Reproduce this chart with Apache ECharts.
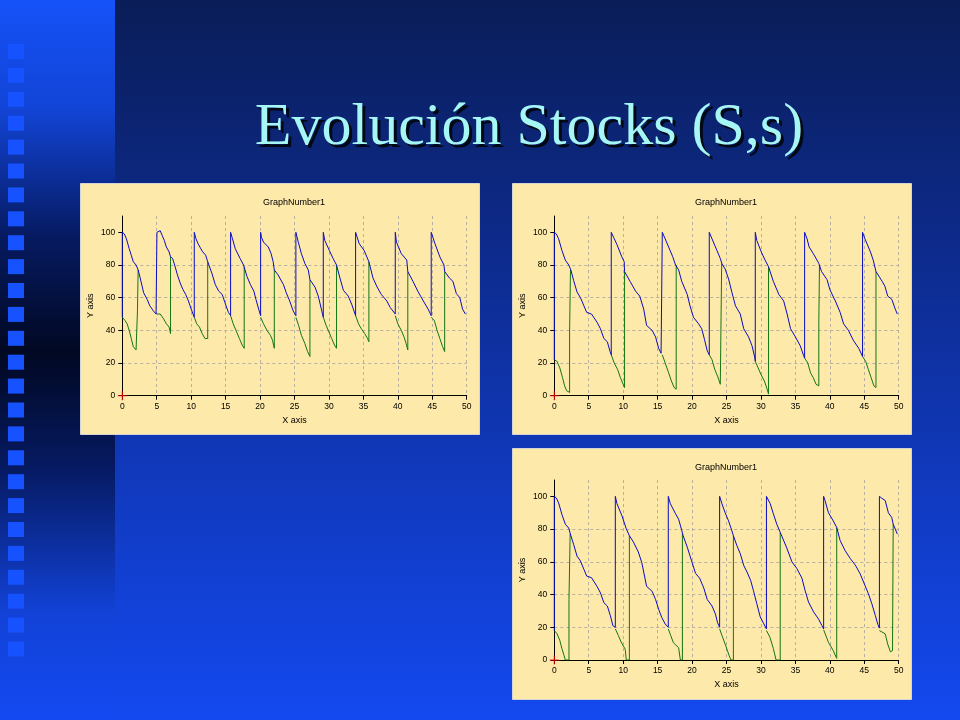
<!DOCTYPE html>
<html><head><meta charset="utf-8">
<script src="https://cdn.jsdelivr.net/npm/echarts@6/dist/echarts.min.js"></script>
<style>html,body{margin:0;padding:0;background:#0a1d58}#c{width:960px;height:720px}</style>
</head><body><div id="c"></div><script>
const slideTitle = 'Evolución Stocks (S,s)';
const panelTitles = ['GraphNumber1', 'GraphNumber1', 'GraphNumber1'];
const xAxisName = 'X axis';
const yAxisName = 'Y axis';
const yTickValues = [0, 20, 40, 60, 80, 100];
const xTickValues = [0, 5, 10, 15, 20, 25, 30, 35, 40, 45, 50];

// Panel 1 (top-left): inventory position (blue) and on-hand stock (green)
const blue1 = [
[0,48],[0,100],[0.3,99],[0.6,96],[1.0,90],[1.3,86],[1.6,82],[2.0,80],[2.3,77],[2.6,72],[3.1,63],[3.6,59],[4.0,55],[4.5,52],[4.9,50],[5.03,50],
[5.03,100],[5.3,100],[5.5,101],[5.8,98],[6.1,95],[6.4,91],[6.8,88],[7.0,85],[7.3,84],[7.6,80],[8.0,74],[8.4,69],[8.8,65],[9.2,62],[9.6,58],[10.0,53],[10.45,48],
[10.45,100],[10.7,96],[11.0,93],[11.6,88.5],[12.1,86],[12.4,82],[13.0,75],[13.5,68],[14.0,64],[14.5,62],[14.9,57],[15.4,51],[15.72,49],
[15.72,100],[16.0,96],[16.4,90],[17.1,84],[17.6,80],[17.7,79],[18.1,73],[18.6,68],[19.1,64],[19.4,59],[19.8,53],[20.08,49],
[20.08,100],[20.2,97],[20.5,94],[21.2,91],[21.6,87],[21.9,82],[22.07,77],[22.6,74],[23.4,68],[23.8,63],[24.3,58],[24.8,52],[25.2,49],
[25.2,100],[25.55,94],[26.0,87],[26.5,81],[27.0,77],[27.24,71],[27.97,66.5],[28.45,61],[28.9,53],[29.18,48],
[29.18,100],[29.4,95],[30.05,89],[30.6,84],[31.1,80],[31.6,72],[32.1,64.5],[32.8,61],[33.3,56],[33.87,49],
[33.87,100],[34.0,101],[34.4,93],[35.1,89],[35.8,82],[36.4,72],[37.0,66.5],[37.6,62],[38.4,58],[38.9,54],[39.63,50],
[39.63,100],[39.8,94],[40.5,87],[41.3,83],[41.45,76],[42.2,70],[42.9,64],[43.7,58],[44.4,53],[44.85,49],
[44.85,100],[45.4,93],[46.1,85],[46.7,80],[46.8,76],[47.5,72],[48.0,70],[48.5,62.5],[49.0,60],[49.4,53],[49.8,50]
];
const green1 = [
[[0,48],[0.4,46],[0.7,44],[1.0,40],[1.3,35],[1.6,30],[2.0,28],[2.2,27],[2.2,52],[2.3,52],[2.3,77]],
[[5.03,50],[5.5,50],[6.0,47],[6.4,44],[6.8,42],[7.0,38],[7.0,85]],
[[10.45,48],[10.8,44],[11.2,42],[11.6,38],[12.0,35],[12.4,35],[12.4,82]],
[[15.72,49],[16.1,44],[16.5,40],[17.0,35],[17.4,31],[17.7,29],[17.7,79]],
[[20.08,48],[20.5,44],[21.0,40],[21.5,37],[21.8,34],[22.07,29],[22.07,77]],
[[25.2,48],[25.6,43],[26.0,37],[26.5,32],[26.9,27],[27.24,24],[27.24,71]],
[[29.18,48],[29.6,43],[30.0,39],[30.4,35],[30.8,31],[31.1,29],[31.1,80]],
[[33.87,49],[34.3,44],[34.7,41],[35.2,38],[35.6,35],[35.8,33],[35.8,82]],
[[39.63,49],[40.0,44],[40.5,40],[40.9,36],[41.2,32],[41.45,28],[41.45,76]],
[[44.85,48],[45.3,46],[45.7,40],[46.1,35],[46.5,30],[46.8,27],[46.8,76]]
];

// Panel 2 (top-right)
const blue2 = [
[0,22],[0,100],[0.3,99],[0.63,96],[1.1,89],[1.6,83],[2.1,80],[2.4,77],[2.8,70.6],[3.3,63.5],[3.8,60],[4.3,55],[4.7,51],[5.4,50],[6.2,45],[6.7,41],[7.2,35],[7.7,33],[8.1,27],[8.27,25],
[8.27,100],[8.6,97],[9.1,92.5],[9.8,85],[10.15,82],[10.2,76],[11.0,70],[11.8,64],[12.4,61],[12.98,53],[13.4,43],[14.2,40],[14.7,36],[15.15,29],[15.5,26],[15.68,25],
[15.68,100],[16.1,96],[16.6,91],[17.2,85],[17.6,80],[18.05,77],[18.5,70],[19.3,62],[19.7,55],[20.2,48],[20.95,44],[21.4,41],[21.8,34.5],[22.2,27.5],[22.5,25],
[22.5,100],[22.9,96],[23.6,89],[24.1,84],[24.34,80.7],[24.8,77.6],[25.3,71.5],[25.8,63],[26.3,55],[27.0,50],[27.5,41],[28.2,36],[28.7,30.6],[29.1,23.5],[29.18,21],
[29.18,100],[29.4,95],[30.05,88],[30.6,83],[31.1,79],[31.8,70],[32.6,62],[33.3,58],[33.8,50],[34.3,41],[35.0,36],[35.7,30.6],[36.2,24.5],[36.34,23],
[36.34,100],[36.7,96],[37.0,91],[37.6,87],[38.4,81],[38.8,76],[39.6,71],[40.0,65],[40.8,58],[41.5,51],[42.0,44],[42.7,40],[43.4,34],[44.2,29],[44.75,24],
[44.75,100],[45.1,96],[45.9,88],[46.3,83],[46.7,76],[47.6,70],[48.0,67],[48.4,61],[49.0,59],[49.5,53],[49.8,50]
];
const green2 = [
[[0,22],[0.4,21],[0.8,17],[1.2,11],[1.5,6],[1.8,3],[2.22,2],[2.22,39],[2.35,39],[2.35,77]],
[[8.27,25],[8.7,20],[9.2,16],[9.6,11],[10.0,7],[10.2,5],[10.2,76]],
[[15.68,25],[16.1,20],[16.6,14],[17.0,9],[17.4,5],[17.7,4],[17.7,80]],
[[22.5,25],[22.9,22],[23.3,16],[23.7,12],[24.1,7],[24.3,6],[24.3,81]],
[[29.18,21],[29.6,17],[30.0,13],[30.5,9],[30.9,4],[31.1,1],[31.1,79]],
[[36.34,23],[36.8,20],[37.2,14],[37.6,11],[38.0,7],[38.4,6],[38.4,44],[38.5,44],[38.5,80]],
[[44.75,24],[45.2,21],[45.6,16],[46.0,11],[46.4,6],[46.7,5],[46.7,76]]
];

// Panel 3 (bottom-right)
const blue3 = [
[0,18],[0,100],[0.3,99],[0.63,96],[1.1,89],[1.6,83],[2.1,80.6],[2.33,77],[2.8,70.7],[3.3,63.5],[3.8,60.5],[4.3,55.4],[4.7,51.3],[5.4,50.3],[6.2,45],[6.7,41],[7.2,35],[7.7,33],[8.15,27],[8.5,21],[8.86,20],
[8.86,100],[9.1,95.5],[9.8,88.4],[10.45,80.2],[10.9,76],[11.5,72],[12.2,66],[12.7,59.6],[13.4,45],[14.2,42],[14.7,37],[15.15,31],[15.6,26],[16.1,22],[16.55,20],
[16.55,100],[16.85,95.5],[17.6,89.4],[18.05,86],[18.45,80],[18.7,76],[19.3,69],[19.9,61],[20.5,53],[21.1,50],[21.7,44],[22.2,37],[22.9,33],[23.4,28],[23.7,22.8],[24.0,20],
[24.0,100],[24.34,95.5],[24.8,90],[25.3,85],[25.7,80],[26.0,76],[26.5,70],[27.0,65],[27.5,57.8],[27.97,53.8],[28.5,48.7],[28.9,42.6],[29.4,34.4],[29.9,26.3],[30.4,22.2],[30.8,19],
[30.8,100],[30.9,101],[31.35,95.5],[31.8,89.4],[32.3,83],[32.6,80],[32.8,78],[33.7,69],[34.5,60],[35.2,56],[35.95,50],[36.4,42.6],[36.9,35.5],[37.64,29.4],[38.37,25],[38.85,21],[39.1,19],
[39.1,100],[39.3,97.5],[39.8,90],[40.5,85],[41.0,81],[41.5,73],[42.2,67],[42.97,62],[43.7,58],[44.4,52.7],[45.1,45.6],[45.6,40.5],[46.1,34.4],[46.6,27.3],[46.98,21.6],[47.2,19.5],
[47.2,100],[47.5,99],[48.04,97.5],[48.5,90],[49.0,87],[49.2,83],[49.8,77]
];
const green3 = [
[[0,18],[0.4,16],[0.8,12],[1.1,7],[1.4,3],[1.6,0],[2.13,0],[2.13,37],[2.3,37],[2.3,77]],
[[8.86,19],[9.3,15],[9.7,11],[10.3,6.5],[10.45,0],[10.9,0],[10.9,76]],
[[16.55,19],[16.9,15],[17.3,10.5],[18.05,7.5],[18.3,0],[18.6,0],[18.6,77]],
[[24.0,19],[24.34,15],[24.9,8.6],[25.4,2.5],[25.65,0],[26.0,0],[26.0,76]],
[[30.8,18],[31.3,14],[31.8,7],[32.2,0],[32.8,0],[32.8,78]],
[[39.1,18.5],[39.8,10.8],[40.5,5.7],[41.0,1],[41.0,81]],
[[47.2,18],[48.04,16],[48.4,9.8],[48.8,5],[49.1,5.7],[49.2,5.7],[49.2,83]]
];

const panels = [
  {blue: blue1, green: green1},
  {blue: blue2, green: green2},
  {blue: blue3, green: green3}
];

// ---- layout (not data) ----
const BLUE = '#0c0cc4', GREEN = '#157515';
const FONT = '"Liberation Sans", Arial, sans-serif';
const boxes = [
  {x: 80, y: 183, w: 400, h: 252},
  {x: 512, y: 183, w: 400, h: 252},
  {x: 512, y: 448, w: 400, h: 252}
];
const grids = [
  {left: 122.3, top: 216, width: 344.4, height: 179.7},
  {left: 554.3, top: 216, width: 344.4, height: 179.7},
  {left: 554.3, top: 480, width: 344.4, height: 180}
];

const chart = echarts.init(document.getElementById('c'), null, {renderer: 'canvas'});

const xAxes = [], yAxes = [], series = [];
panels.forEach((p, i) => {
  xAxes.push({
    type: 'value', gridIndex: i, min: 0, max: 50, interval: 5,
    axisLine: {show: true, onZero: false, lineStyle: {color: '#000', width: 1}},
    axisTick: {show: true, length: 4, lineStyle: {color: '#000'}},
    axisLabel: {fontSize: 8.5, color: '#000', margin: 6, fontFamily: FONT},
    splitLine: {show: true, showMinLine: false, lineStyle: {color: '#b8b0a0', type: [3, 3], width: 1}},
    name: xAxisName, nameLocation: 'middle', nameGap: 20,
    nameTextStyle: {fontSize: 9, color: '#000', fontFamily: FONT}
  });
  yAxes.push({
    type: 'value', gridIndex: i, min: 0, max: 110, interval: 20,
    axisLine: {show: true, onZero: false, lineStyle: {color: '#000', width: 1}},
    axisTick: {show: true, length: 4, lineStyle: {color: '#000'}, customValues: yTickValues},
    axisLabel: {fontSize: 8.5, color: '#000', margin: 7, fontFamily: FONT, customValues: yTickValues},
    splitLine: {show: true, showMinLine: false, showMaxLine: false, lineStyle: {color: '#b8b0a0', type: [3, 3], width: 1}},
    name: yAxisName, nameLocation: 'middle', nameGap: 27, nameRotate: 90,
    nameTextStyle: {fontSize: 9, color: '#000', fontFamily: FONT}
  });
  p.green.forEach(seg => series.push({
    type: 'line', xAxisIndex: i, yAxisIndex: i, data: seg, showSymbol: false,
    lineStyle: {color: GREEN, width: 1}, itemStyle: {color: GREEN}, z: 2, silent: true, animation: false
  }));
  series.push({
    type: 'line', xAxisIndex: i, yAxisIndex: i, data: p.blue, showSymbol: false,
    lineStyle: {color: BLUE, width: 1}, itemStyle: {color: BLUE}, z: 3, silent: true, animation: false
  });
  series.push({
    type: 'scatter', xAxisIndex: i, yAxisIndex: i, data: [[0, 0]],
    symbol: 'path://M0,3.5H8V4.5H0Z M3.5,0H4.5V8H3.5Z', symbolSize: 9,
    itemStyle: {color: '#ff0000'}, z: 6, silent: true, animation: false
  });
});

const graphics = [];
graphics.push({
  type: 'rect', z: -30, silent: true,
  shape: {x: 0, y: 0, width: 960, height: 720},
  style: {fill: new echarts.graphic.LinearGradient(0, 0, 0, 1, [
    {offset: 0, color: '#0a1d58'}, {offset: 0.45, color: '#0e2f9c'}, {offset: 1, color: '#1449f0'}
  ])}
});
graphics.push({
  type: 'rect', z: -29, silent: true,
  shape: {x: 0, y: 0, width: 115, height: 720},
  style: {fill: new echarts.graphic.LinearGradient(0, 0, 0, 1, [
    {offset: 0, color: '#1552f8'}, {offset: 0.15, color: '#1244d6'}, {offset: 0.33, color: '#061a60'},
    {offset: 0.49, color: '#010822'}, {offset: 0.65, color: '#061a62'}, {offset: 0.85, color: '#1242d6'},
    {offset: 1, color: '#1449f2'}
  ])}
});
for (let k = 0; k < 26; k++) {
  graphics.push({
    type: 'rect', z: -28, silent: true,
    shape: {x: 8, y: 44 + k * 23.9, width: 16, height: 15},
    style: {fill: '#1652ff'}
  });
}
boxes.forEach((b, i) => {
  graphics.push({
    type: 'rect', z: -20, silent: true,
    shape: {x: b.x + 0.5, y: b.y + 0.5, width: b.w - 1, height: b.h - 1},
    style: {fill: '#fde9a9', stroke: '#d4d4d4', lineWidth: 1}
  });
  graphics.push({
    type: 'text', z: 10, silent: true,
    style: {text: panelTitles[i], x: b.x + 214, y: b.y + 20, fill: '#000',
      font: '9px ' + FONT, align: 'center', verticalAlign: 'middle',
      textAlign: 'center', textVerticalAlign: 'middle'}
  });
});
const titleFont = '60px "Liberation Serif", "Times New Roman", serif';
graphics.push({
  type: 'text', z: 10, silent: true,
  style: {text: slideTitle, x: 532, y: 131, fill: '#000814', font: titleFont,
    align: 'center', verticalAlign: 'middle', textAlign: 'center', textVerticalAlign: 'middle'}
});
graphics.push({
  type: 'text', z: 11, silent: true,
  style: {text: slideTitle, x: 529, y: 128, fill: '#a6f6f6', font: titleFont,
    align: 'center', verticalAlign: 'middle', textAlign: 'center', textVerticalAlign: 'middle'}
});

chart.setOption({
  animation: false,
  backgroundColor: '#0a1d58',
  grid: grids.map(g => Object.assign({containLabel: false}, g)),
  xAxis: xAxes,
  yAxis: yAxes,
  series: series,
  graphic: {elements: graphics}
});
</script></body></html>
